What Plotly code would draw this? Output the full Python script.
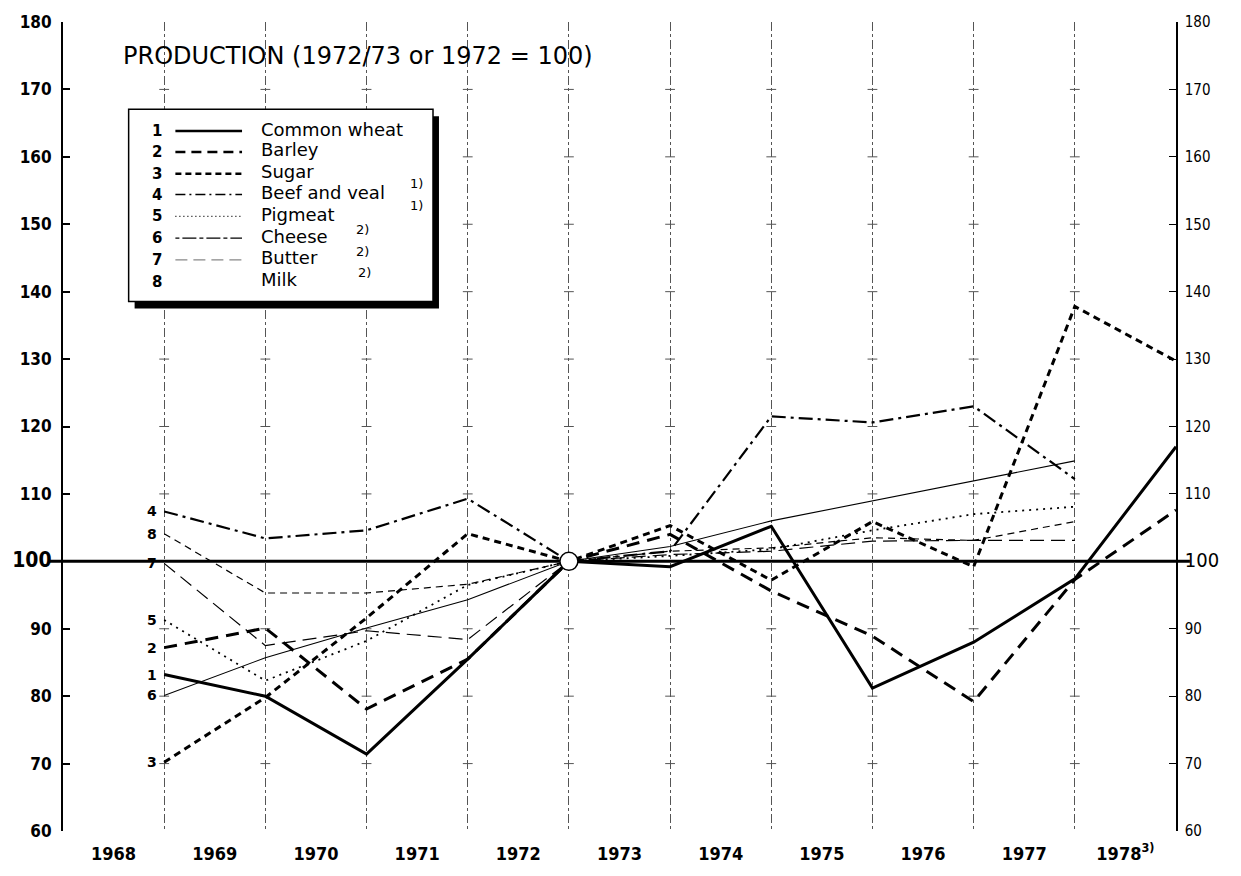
import plotly.graph_objects as go

# ---------------- data ----------------
years = [1968, 1969, 1970, 1971, 1972, 1973, 1974, 1975, 1976, 1977, 1978]
year_labels = ["1968", "1969", "1970", "1971", "1972", "1973", "1974", "1975",
               "1976", "1977", "1978<sup>3)</sup>"]
base_year = 1972
base_index = 100

series_numbers = ["1", "2", "3", "4", "5", "6", "7", "8"]
series_names = ["Common wheat", "Barley", "Sugar", "Beef and veal", "Pigmeat",
                "Cheese", "Butter", "Milk"]
legend_notes = ["", "", "", "1)", "1)", "2)", "2)", "2)"]

wheat = [83.2, 80.0, 71.4, 85.5, 100, 99.2, 105.2, 81.2, 88.0, 97.4, 117.0]
barley = [87.2, 90.1, 78.1, 85.5, 100, 104.0, 95.6, 88.9, 79.2, 97.3, 107.6]
sugar = [70.2, 79.8, 91.6, 104.1, 100, 105.3, 97.2, 105.9, 99.2, 137.8, 129.7]
beef_veal = [107.4, 103.4, 104.6, 109.3, 100, 101.5, 121.5, 120.6, 123.0, 112.2, None]
pigmeat = [91.3, 82.3, 88.2, 96.5, 100, 100.8, 101.8, 104.6, 107.0, 108.1, None]
cheese = [80.1, 85.7, 90.1, 94.3, 100, 102.2, 106.0, 109.0, 111.9, 114.9, None]
butter = [99.7, 87.5, 89.7, 88.4, 100, 101.0, 101.5, 103.0, 103.1, 103.1, None]
milk = [104.1, 95.3, 95.3, 96.6, 100, 101.5, 102.0, 103.5, 103.1, 105.9, None]

y_ticks = [60, 70, 80, 90, 100, 110, 120, 130, 140, 150, 160, 170, 180]

title_text = "PRODUCTION (1972/73 or 1972 = 100)"

# ---------------- styling ----------------
series_values = [wheat, barley, sugar, beef_veal, pigmeat, cheese, butter, milk]
line_styles = [
    dict(width=3, dash="solid"),
    dict(width=3, dash="13px,8px"),
    dict(width=3, dash="7px,5px"),
    dict(width=2.2, dash="14px,5px,3px,5px"),
    dict(width=1.8, dash="2px,5px"),
    dict(width=1.1, dash="solid"),
    dict(width=1.2, dash="14px,7px"),
    dict(width=1.2, dash="7px,5px"),
]
legend_styles = [
    dict(width=2.5, dash="solid", color="black"),
    dict(width=2.5, dash="10px,6px", color="black"),
    dict(width=2.5, dash="6px,4px", color="black"),
    dict(width=1.5, dash="10px,4px,2px,4px", color="black"),
    dict(width=1.2, dash="1px,3px", color="black"),
    dict(width=1.2, dash="4px,3px,14px,3px", color="black"),
    dict(width=1.2, dash="12px,6px", color="#888"),
    None,
]

FONT = "DejaVu Sans, Liberation Sans, sans-serif"
TICKFONT = "DejaVu Sans Condensed, DejaVu Sans, Liberation Sans Narrow, sans-serif"

W, H = 1241, 876
PL, PR, PT, PB = 57, 1176, 19, 835


def px(x):
    return (x - PL) / (PR - PL)


def py(y):
    return (PB - y) / (PB - PT)


fig = go.Figure()

# small grid crosses at the intersections
gx, gy = [], []
for yr in years[:-1]:
    for lv in y_ticks[1:-1]:
        if lv != base_index:
            gx.append(yr)
            gy.append(lv)
fig.add_trace(go.Scatter(
    x=gx, y=gy, mode="markers",
    marker=dict(symbol="line-ew", size=7, line=dict(width=1, color="#555")),
    hoverinfo="skip", showlegend=False))

for name, vals, st in zip(series_names, series_values, line_styles):
    fig.add_trace(go.Scatter(
        x=years, y=vals, mode="lines", name=name,
        line=dict(color="black", width=st["width"], dash=st["dash"]),
        showlegend=False))

# base point
fig.add_trace(go.Scatter(
    x=[base_year], y=[base_index], mode="markers", name="Base",
    marker=dict(size=18, color="white", line=dict(color="black", width=1.5)),
    showlegend=False))

# invisible trace to carry the secondary axes
fig.add_trace(go.Scatter(
    x=[years[0]], y=[base_index], xaxis="x2", yaxis="y2", mode="markers",
    marker=dict(opacity=0), hoverinfo="skip", showlegend=False))

annotations = []
# series numbers at start of lines
for num, vals in zip(series_numbers, series_values):
    annotations.append(dict(
        x=years[0], y=vals[0], xref="x", yref="y", text=f"<b>{num}</b>",
        showarrow=False, xshift=-12, borderpad=0,
        font=dict(family=FONT, size=14, color="black")))

# title
annotations.append(dict(
    x=px(115), y=py(53), xref="paper", yref="paper", xanchor="left", yanchor="middle",
    text=title_text, showarrow=False, font=dict(family=FONT, size=24, color="black")))

shapes = []
# legend box with shadow
shapes.append(dict(type="rect", xref="paper", yref="paper",
                   x0=px(129), x1=px(435), y0=py(308), y1=py(114),
                   fillcolor="black", line=dict(width=0), layer="above"))
shapes.append(dict(type="rect", xref="paper", yref="paper",
                   x0=px(123), x1=px(429), y0=py(301), y1=py(107),
                   fillcolor="white", line=dict(width=1.5, color="black"), layer="above"))

row_y = [127, 148, 170, 191, 213, 235, 257, 279]
note_pos = [None, None, None, (412, 182), (412, 204), (358, 228), (358, 250), (360, 272)]
for i in range(len(series_names)):
    yy = row_y[i]
    annotations.append(dict(
        x=px(152), y=py(yy + 2), xref="paper", yref="paper", text=f"<b>{series_numbers[i]}</b>",
        showarrow=False, xanchor="center", yanchor="middle", borderpad=0,
        font=dict(family=FONT, size=15, color="black")))
    annotations.append(dict(
        x=px(255), y=py(yy), xref="paper", yref="paper", text=series_names[i],
        showarrow=False, xanchor="left", yanchor="middle", borderpad=0,
        font=dict(family=FONT, size=18, color="black")))
    if legend_styles[i] is not None:
        ls = legend_styles[i]
        shapes.append(dict(type="line", xref="paper", yref="paper",
                           x0=px(170), x1=px(237), y0=py(yy + 2), y1=py(yy + 2),
                           line=dict(color=ls["color"], width=ls["width"], dash=ls["dash"]),
                           layer="above"))
    if legend_notes[i]:
        nx, ny = note_pos[i]
        annotations.append(dict(
            x=px(nx), y=py(ny), xref="paper", yref="paper", text=legend_notes[i],
            showarrow=False, xanchor="center", yanchor="middle", borderpad=0,
            font=dict(family=FONT, size=13, color="black")))

# thick base line at 100
shapes.append(dict(type="line", xref="paper", yref="y",
                   x0=px(43), x1=px(1190), y0=base_index, y1=base_index,
                   line=dict(color="black", width=3), layer="below"))

left_ticktext = [f"<span style='font-size:21px'>{v}</span>" if v == base_index else str(v)
                 for v in y_ticks]
right_ticktext = [f"<span style='font-size:20px'>{v}</span>" if v == base_index else str(v)
                  for v in y_ticks]

fig.update_layout(
    width=W, height=H, autosize=False,
    margin=dict(l=PL, r=W - PR, t=PT, b=H - PB, pad=0),
    paper_bgcolor="white", plot_bgcolor="white",
    showlegend=False,
    xaxis=dict(range=[1967, 1978], tickvals=years, showticklabels=False,
               showgrid=True, gridcolor="#555", gridwidth=1, griddash="dashdot",
               zeroline=False, showline=False, ticks=""),
    xaxis2=dict(overlaying="x", anchor="y", side="bottom", range=[1967, 1978],
                tickvals=[y - 0.5 for y in years], ticktext=year_labels,
                showgrid=False, zeroline=False, showline=False, ticks="",
                ticklabelstandoff=10,
                tickfont=dict(family=TICKFONT, size=18, color="black", weight="bold")),
    yaxis=dict(range=[60, 180], tickvals=y_ticks, ticktext=left_ticktext,
               showline=True, linecolor="black", linewidth=2,
               ticks="inside", ticklen=7, tickwidth=1.5, tickcolor="black",
               showgrid=False, zeroline=False, ticklabelstandoff=6,
               tickfont=dict(family=TICKFONT, size=17, color="black", weight="bold")),
    yaxis2=dict(overlaying="y", anchor="x", side="right", range=[60, 180],
                tickvals=y_ticks, ticktext=right_ticktext,
                showline=True, linecolor="black", linewidth=1.5,
                ticks="inside", ticklen=7, tickwidth=1.2, tickcolor="black",
                showgrid=False, zeroline=False, ticklabelstandoff=4,
                tickfont=dict(family=TICKFONT, size=15, color="black")),
    annotations=annotations,
    shapes=shapes,
)

fig.write_html(
    "out.html",
    config={"displayModeBar": False},
    post_script="document.body.style.margin='0';document.body.style.overflow='hidden';",
)
